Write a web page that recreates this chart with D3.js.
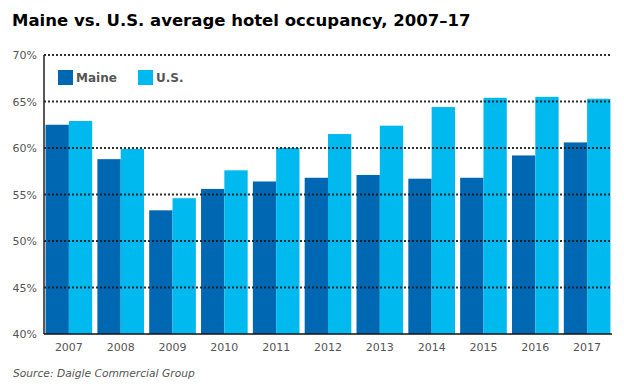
<!DOCTYPE html>
<html><head><meta charset="utf-8">
<script src="https://cdn.jsdelivr.net/npm/d3@7"></script>
<style>body{margin:0;background:#fff}svg{display:block}</style>
</head><body>
<script>
const years = ["2007","2008","2009","2010","2011","2012","2013","2014","2015","2016","2017"];
const maine = [62.5,58.8,53.3,55.6,56.4,56.8,57.1,56.7,56.8,59.2,60.6];
const us = [62.9,59.9,54.6,57.6,60.0,61.5,62.4,64.4,65.4,65.5,65.3];
const yTicks = [40,45,50,55,60,65,70];
const seriesNames = ["Maine","U.S."];
const colors = ["#0068b3","#00b9ee"];

const W=624,H=390;
const svg=d3.select("body").append("svg").attr("width",W).attr("height",H);
const m={l:44,r:12,t:55,b:56};
const x=d3.scaleBand().domain(years).range([m.l,W-m.r]).paddingInner(0.1).paddingOuter(0.03);
const y=d3.scaleLinear().domain([40,70]).range([H-m.b,m.t]);
const sub=d3.scaleBand().domain([0,1]).range([0,x.bandwidth()]);

svg.append("text").attr("x",12).attr("y",26).text("Maine vs. U.S. average hotel occupancy, 2007–17")
  .attr("font-family","DejaVu Sans").attr("font-weight","bold").attr("font-size",16.5).attr("fill","#000");

// bars
const data=[maine,us];
const g=svg.append("g");
data.forEach((s,i)=>{
  g.selectAll(null).data(years).join("rect")
   .attr("x",(d)=>x(d)+sub(i)).attr("width",sub.bandwidth())
   .attr("y",(d,j)=>y(s[j])).attr("height",(d,j)=>y(40)-y(s[j]))
   .attr("fill",colors[i]);
});
// dotted gridlines (drawn over bars, as in the reference)
svg.append("g").selectAll("line").data(yTicks.filter(d=>d>40)).join("line")
  .attr("x1",m.l).attr("x2",W-m.r).attr("y1",d=>y(d)).attr("y2",d=>y(d))
  .attr("stroke","#1a1a1a").attr("stroke-width",2).attr("stroke-dasharray","2,2").attr("opacity",0.9);

// axes
svg.append("line").attr("x1",m.l).attr("x2",m.l).attr("y1",m.t).attr("y2",y(40)).attr("stroke","#222").attr("stroke-width",1.5);
svg.append("line").attr("x1",m.l).attr("x2",W-m.r).attr("y1",y(40)).attr("y2",y(40)).attr("stroke","#111").attr("stroke-width",1.5);

const yAxis=d3.axisLeft(y).tickValues(yTicks).tickFormat(d=>d+"%").tickSize(0).tickPadding(7);
const ya=svg.append("g").attr("transform",`translate(${m.l},0)`).call(yAxis);
ya.select(".domain").remove();
ya.selectAll("text").attr("font-family","DejaVu Sans").attr("font-size",11).attr("fill","#555");

const xAxis=d3.axisBottom(x).tickSize(0).tickPadding(9);
const xa=svg.append("g").attr("transform",`translate(0,${y(40)})`).call(xAxis);
xa.select(".domain").remove();
xa.selectAll("text").attr("font-family","DejaVu Sans").attr("font-size",11).attr("fill","#555");

// legend
const lg=svg.append("g");
const lx=[58,138];
seriesNames.forEach((n,i)=>{
  lg.append("rect").attr("x",lx[i]).attr("y",70).attr("width",15).attr("height",15).attr("fill",colors[i]);
  lg.append("text").attr("x",lx[i]+18).attr("y",82).text(n)
    .attr("font-family","DejaVu Sans").attr("font-weight","bold").attr("font-size",12).attr("fill","#555");
});

svg.append("text").attr("x",13).attr("y",377).text("Source: Daigle Commercial Group")
  .attr("font-family","DejaVu Sans").attr("font-style","italic").attr("font-size",10.7).attr("fill","#555");
</script>
</body></html>
